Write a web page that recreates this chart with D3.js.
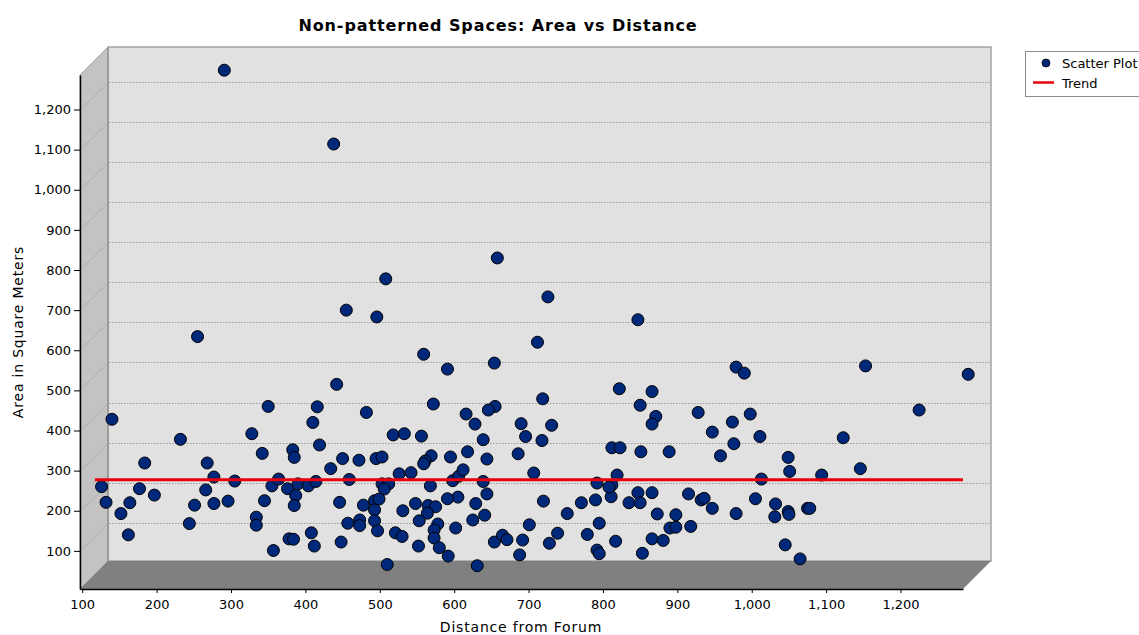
<!DOCTYPE html>
<html>
<head>
<meta charset="utf-8">
<script src="https://cdn.jsdelivr.net/npm/d3@7"></script>
<style>
  html, body { margin: 0; padding: 0; background: #ffffff; }
  svg { display: block; }
  text { font-family: "DejaVu Sans", Verdana, sans-serif; fill: #000; }
</style>
</head>
<body>
<svg id="chart" width="1139" height="635"></svg>
<script>
// Distance from the forum (x) and floor area in m² (y) for each space
const distance = [
  291, 438, 658, 508, 726, 455, 496, 847,
  255, 140, 350, 232, 328, 342, 184, 268, 277, 305, 126, 177, 266, 355, 132, 164, 197, 251, 277, 296, 345, 152, 244, 334, 334, 162, 357,
  559, 591, 442, 416, 410, 482, 572, 518, 533, 556, 419, 383, 385, 450, 472, 495, 503, 569, 561, 559, 595, 434, 526, 542, 364, 376, 390,
  404, 414, 387, 385, 459, 503, 512, 506, 568, 598, 606, 605, 591, 446, 478, 493, 499, 493, 548, 531, 565, 575, 564, 553, 457, 473, 473,
  493, 497, 521, 530, 578, 573, 573, 602, 378, 384, 408, 412, 448, 552, 580, 592, 510,
  712, 654, 822, 719, 655, 646, 616, 628, 850, 690, 731, 696, 718, 639, 618, 644, 686, 812, 823, 851, 612, 639, 644, 707, 629, 641, 625,
  720, 752, 771, 790, 811, 819, 792, 812, 808, 835, 847, 850, 701, 739, 728, 779, 795, 817, 792, 795, 853, 654, 665, 671, 692, 688, 631,
  979, 990, 866, 928, 871, 866, 998, 974, 947, 1011, 976, 958, 889, 1049, 1051, 1094, 1013, 866, 915, 932, 936, 947, 979, 1005, 1032,
  1031, 1049, 1050, 1075, 1078, 873, 898, 890, 898, 918, 866, 881, 1045, 1065,
  1153, 1291, 1225, 1123, 1146
];
const area = [
  1298, 1114, 830, 778, 733, 700, 683, 676,
  634, 428, 460, 378, 392, 343, 319, 319, 284, 274, 260, 255, 252, 262, 221, 220, 239, 214, 218, 224, 225, 193, 168, 184, 164, 140, 101,
  590, 553, 515, 459, 420, 445, 466, 389, 392, 386, 364, 352, 333, 330, 326, 330, 334, 337, 324, 317, 334, 305, 292, 295, 279, 255, 267,
  262, 273, 238, 213, 278, 267, 267, 254, 262, 275, 286, 234, 230, 221, 214, 225, 229, 202, 218, 200, 213, 210, 194, 175, 169, 177, 163,
  175, 150, 145, 136, 167, 152, 132, 157, 130, 129, 145, 112, 122, 112, 108, 87, 66,
  620, 568, 504, 479, 460, 451, 441, 416, 463, 417, 413, 385, 375, 377, 347, 329, 342, 357, 357, 347, 302, 273, 242, 294, 218, 189, 177,
  224, 193, 220, 227, 235, 289, 269, 264, 259, 220, 245, 220, 165, 144, 119, 141, 169, 124, 102, 93, 94, 122, 139, 128, 127, 90, 63,
  558, 543, 497, 445, 435, 416, 441, 421, 396, 385, 367, 337, 347, 333, 298, 289, 279, 245, 242, 227, 231, 206, 193, 230, 217,
  185, 198, 191, 206, 206, 192, 190, 157, 159, 161, 130, 126, 115, 80,
  561, 540, 451, 382, 305
];

// Horizontal trend line (mean area) across the distance range
const trendDistance = [117, 1284];
const trendArea = [277, 277];

// Axis tick values
const xTicks = [100, 200, 300, 400, 500, 600, 700, 800, 900, 1000, 1100, 1200];
const yTicks = [100, 200, 300, 400, 500, 600, 700, 800, 900, 1000, 1100, 1200];

const chartTitle = "Non-patterned Spaces: Area vs Distance";
const xTitle = "Distance from Forum";
const yTitle = "Area in Square Meters";
const seriesNames = ["Scatter Plot", "Trend"];

// ---- layout ----
const svg = d3.select("#chart");
const depth = 28;               // 3D wall depth offset (px right / up)
const x = d3.scaleLinear().domain([97, 1284]).range([80, 963]);
const y = d3.scaleLinear().domain([5, 1286]).range([589, 75]);

const [fx0, fx1] = x.range();
const [fyB, fyT] = y.range();
const bx0 = fx0 + depth, bx1 = fx1 + depth;
const byT = fyT - depth, byB = fyB - depth;

const navy = "#00287a";
const fmt = d3.format(",");

// Back wall
svg.append("rect")
  .attr("x", bx0).attr("y", byT)
  .attr("width", bx1 - bx0).attr("height", byB - byT)
  .attr("fill", "#e1e1e1")
  .attr("stroke", "#a3a3a3").attr("stroke-width", 1.5);

// Left wall
svg.append("polygon")
  .attr("points", [[fx0, fyT], [bx0, byT], [bx0, byB], [fx0, fyB]].map(p => p.join(",")).join(" "))
  .attr("fill", "#c3c3c3")
  .attr("stroke", "#a3a3a3").attr("stroke-width", 1);

// Floor
svg.append("polygon")
  .attr("points", [[fx0, fyB], [bx0, byB], [bx1, byB], [fx1, fyB]].map(p => p.join(",")).join(" "))
  .attr("fill", "#808080");

// Gridlines on back wall + diagonals on the left wall
const grid = svg.append("g").attr("stroke", "#9a9a9a").attr("stroke-width", 1)
  .attr("stroke-dasharray", "1.5,1.5").attr("fill", "none");
yTicks.forEach(v => {
  const yy = Math.round(y(v)) + 0.5;
  grid.append("line").attr("x1", bx0 + 1).attr("x2", bx1).attr("y1", yy - depth).attr("y2", yy - depth);
  grid.append("line").attr("x1", fx0).attr("x2", bx0).attr("y1", yy).attr("y2", yy - depth);
});
// Back wall left edge highlight
svg.append("line").attr("x1", bx0).attr("x2", bx0).attr("y1", byT).attr("y2", byB)
  .attr("stroke", "#9c9c9c").attr("stroke-width", 2);

// Axes
const yAxis = d3.axisLeft(y).tickValues(yTicks).tickFormat(fmt).tickSize(6).tickSizeOuter(0);
const xAxis = d3.axisBottom(x).tickValues(xTicks).tickFormat(fmt).tickSize(4).tickSizeOuter(0);

const gy = svg.append("g").attr("transform", `translate(${fx0},0)`).call(yAxis);
const gx = svg.append("g").attr("transform", `translate(0,${fyB})`).call(xAxis);
[gx, gy].forEach(g => {
  g.select(".domain").attr("stroke", "#000").attr("stroke-width", 1.5);
  g.selectAll(".tick line").attr("stroke", "#000");
  g.selectAll(".tick text").attr("font-family", "DejaVu Sans").attr("font-size", 13).attr("fill", "#1a1a1a");
});
gy.selectAll(".tick text").attr("x", -9);
gx.selectAll(".tick text").attr("y", 11);

// Scatter points
svg.append("g").selectAll("circle")
  .data(distance.map((d, i) => [d, area[i]]))
  .join("circle")
  .attr("cx", d => x(d[0]))
  .attr("cy", d => y(d[1]))
  .attr("r", 6)
  .attr("fill", navy)
  .attr("stroke", "#000")
  .attr("stroke-width", 1);

// Trend line
svg.append("path")
  .datum(trendDistance.map((d, i) => [d, trendArea[i]]))
  .attr("d", d3.line().x(d => x(d[0])).y(d => y(d[1])))
  .attr("stroke", "#e8000b").attr("stroke-width", 3).attr("fill", "none");

// Titles
svg.append("text")
  .attr("x", 498).attr("y", 31)
  .attr("text-anchor", "middle")
  .attr("font-size", 16).attr("font-weight", "bold")
  .attr("letter-spacing", 0.9)
  .text(chartTitle);

svg.append("text")
  .attr("x", 521).attr("y", 632)
  .attr("text-anchor", "middle")
  .attr("font-size", 14).attr("letter-spacing", 0.8)
  .attr("fill", "#1a1a1a")
  .text(xTitle);

svg.append("text")
  .attr("transform", "translate(23,332) rotate(-90)")
  .attr("text-anchor", "middle")
  .attr("font-size", 14).attr("letter-spacing", 0.8)
  .attr("fill", "#1a1a1a")
  .text(yTitle);

// Legend
const lg = svg.append("g");
lg.append("rect").attr("x", 1025.5).attr("y", 51.5).attr("width", 130).attr("height", 45)
  .attr("fill", "#fff").attr("stroke", "#8c8c8c");
lg.append("circle").attr("cx", 1046).attr("cy", 63).attr("r", 4)
  .attr("fill", navy).attr("stroke", "#000").attr("stroke-width", 0.8);
lg.append("text").attr("x", 1062).attr("y", 68).attr("font-size", 13).text(seriesNames[0]);
lg.append("line").attr("x1", 1033).attr("x2", 1054).attr("y1", 82.5).attr("y2", 82.5)
  .attr("stroke", "#e8000b").attr("stroke-width", 2.5);
lg.append("text").attr("x", 1062).attr("y", 87.5).attr("font-size", 13).text(seriesNames[1]);
</script>
</body>
</html>
